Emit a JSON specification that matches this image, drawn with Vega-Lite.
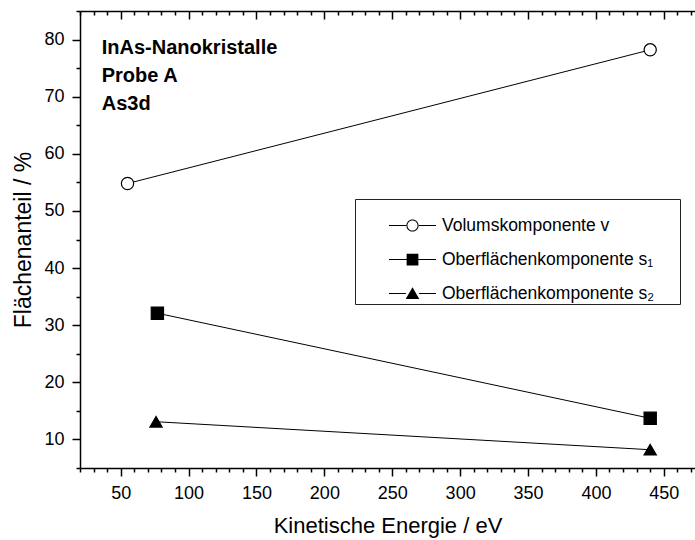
{
  "$schema": "https://vega.github.io/schema/vega-lite/v6.json",
  "width": 615,
  "height": 457,
  "autosize": {"type": "none"},
  "padding": {"left": 80, "top": 11, "right": 0, "bottom": 72},
  "background": "white",
  "config": {
    "view": {"stroke": null},
    "font": "Liberation Sans",
    "axis": {
      "grid": false,
      "domainColor": "black",
      "tickColor": "black",
      "labelColor": "black",
      "titleColor": "black",
      "labelFont": "Liberation Sans",
      "titleFont": "Liberation Sans",
      "titleFontWeight": "normal",
      "domainWidth": 1.5,
      "tickWidth": 1.5
    }
  },
  "datasets": {
    "series": [
      {"serie": "Volumskomponente v", "energie": 55, "anteil": 54.8},
      {"serie": "Volumskomponente v", "energie": 440, "anteil": 78.2},
      {"serie": "Oberflächenkomponente s₁", "energie": 77, "anteil": 32.1},
      {"serie": "Oberflächenkomponente s₁", "energie": 440, "anteil": 13.7},
      {"serie": "Oberflächenkomponente s₂", "energie": 76, "anteil": 13.1},
      {"serie": "Oberflächenkomponente s₂", "energie": 440, "anteil": 8.2}
    ],
    "notes": [
      {"text": "InAs-Nanokristalle", "energie": 36, "anteil": 78.5},
      {"text": "Probe A", "energie": 36, "anteil": 73.6},
      {"text": "As3d", "energie": 36, "anteil": 68.8}
    ]
  },
  "layer": [
    {
      "data": {"name": "series"},
      "mark": {"type": "line", "color": "black", "strokeWidth": 1},
      "encoding": {
        "x": {
          "field": "energie", "type": "quantitative",
          "scale": {"domain": [20, 473], "nice": false, "zero": false},
          "axis": {
            "orient": "bottom",
            "values": [50, 100, 150, 200, 250, 300, 350, 400, 450],
            "tickSize": 8,
            "labelFontSize": 18,
            "labelPadding": 8,
            "title": "Kinetische Energie / eV",
            "titleFontSize": 22,
            "titlePadding": 13
          }
        },
        "y": {
          "field": "anteil", "type": "quantitative",
          "scale": {"domain": [5, 85], "nice": false, "zero": false},
          "axis": {
            "orient": "left",
            "values": [10, 20, 30, 40, 50, 60, 70, 80],
            "tickSize": 8,
            "labelFontSize": 18,
            "labelPadding": 8,
            "title": "Flächenanteil / %",
            "titleFontSize": 23,
            "titlePadding": 8
          }
        },
        "detail": {"field": "serie"}
      }
    },
    {
      "data": {"name": "series"},
      "mark": {"type": "point", "filled": true, "size": 150, "stroke": "black", "strokeWidth": 1.2, "opacity": 1},
      "encoding": {
        "x": {
          "field": "energie", "type": "quantitative",
          "scale": {"domain": [20, 473], "nice": false, "zero": false},
          "axis": {
            "orient": "bottom",
            "values": [20, 30, 40, 60, 70, 80, 90, 110, 120, 130, 140, 160, 170, 180, 190, 210, 220, 230, 240, 260, 270, 280, 290, 310, 320, 330, 340, 360, 370, 380, 390, 410, 420, 430, 440, 460, 470],
            "tickSize": 4,
            "labels": false,
            "domain": false,
            "title": null
          }
        },
        "y": {
          "field": "anteil", "type": "quantitative",
          "scale": {"domain": [5, 85], "nice": false, "zero": false},
          "axis": {
            "orient": "left",
            "values": [5, 15, 25, 35, 45, 55, 65, 75, 85],
            "tickSize": 4,
            "labels": false,
            "domain": false,
            "title": null
          }
        },
        "shape": {
          "field": "serie", "type": "nominal",
          "scale": {
            "domain": ["Volumskomponente v", "Oberflächenkomponente s₁", "Oberflächenkomponente s₂"],
            "range": ["circle", "square", "triangle-up"]
          },
          "legend": null
        },
        "fill": {
          "field": "serie", "type": "nominal",
          "scale": {
            "domain": ["Volumskomponente v", "Oberflächenkomponente s₁", "Oberflächenkomponente s₂"],
            "range": ["white", "black", "black"]
          },
          "legend": null
        }
      }
    },
    {
      "data": {"name": "series"},
      "mark": {"type": "point", "filled": true, "color": "black", "opacity": 0},
      "encoding": {
        "x": {
          "field": "energie", "type": "quantitative",
          "scale": {"domain": [20, 473], "nice": false, "zero": false},
          "axis": null
        },
        "y": {
          "field": "anteil", "type": "quantitative",
          "scale": {"domain": [5, 85], "nice": false, "zero": false},
          "axis": null
        },
        "shape": {
          "field": "serie", "type": "nominal",
          "scale": {
            "domain": ["Volumskomponente v", "Oberflächenkomponente s₁", "Oberflächenkomponente s₂"],
            "range": [
              "M11.15,0L11.15,0.01L11.14,0.01ZM-1,-0.021H-0.27V0.021H-1ZM0.27,-0.021H1V0.021H0.27ZM-0.26,0A0.26,0.26 0 1,1 0.26,0A0.26,0.26 0 1,1 -0.26,0ZM-0.215,0A0.215,0.215 0 1,0 0.215,0A0.215,0.215 0 1,0 -0.215,0Z",
              "M11.15,0L11.15,0.01L11.14,0.01ZM-1,-0.021H-0.25V0.021H-1ZM0.25,-0.021H1V0.021H0.25ZM-0.25,-0.25H0.25V0.25H-0.25Z",
              "M11.15,0L11.15,0.01L11.14,0.01ZM-1,-0.021H-0.28V0.021H-1ZM0.28,-0.021H1V0.021H0.28ZM0,-0.27L0.29,0.23L-0.29,0.23Z"
            ]
          },
          "legend": {
            "title": null,
            "orient": "none",
            "legendX": 275,
            "legendY": 188,
            "padding": 2,
            "symbolSize": 2209,
            "symbolOffset": 31,
            "symbolOpacity": 1,
            "symbolFillColor": "black",
            "labelOffset": 5,
            "rowPadding": -13.5,
            "labelFont": "Liberation Sans",
            "labelFontSize": 17.5,
            "labelColor": "black",
            "labelLimit": 400,
            "strokeColor": "#222222",
            "fillColor": "white"
          }
        }
      }
    },
    {
      "data": {"name": "series"},
      "mark": {"type": "point", "opacity": 0},
      "encoding": {
        "x": {
          "field": "energie", "type": "quantitative",
          "scale": {"domain": [20, 473], "nice": false, "zero": false},
          "axis": {
            "orient": "top",
            "values": [50, 100, 150, 200, 250, 300, 350, 400, 450],
            "tickSize": -8,
            "labels": false,
            "title": null
          }
        },
        "y": {
          "field": "anteil", "type": "quantitative",
          "scale": {"domain": [5, 85], "nice": false, "zero": false},
          "axis": null
        }
      }
    },
    {
      "data": {"name": "series"},
      "mark": {"type": "point", "opacity": 0},
      "encoding": {
        "x": {
          "field": "energie", "type": "quantitative",
          "scale": {"domain": [20, 473], "nice": false, "zero": false},
          "axis": {
            "orient": "top",
            "values": [20, 30, 40, 60, 70, 80, 90, 110, 120, 130, 140, 160, 170, 180, 190, 210, 220, 230, 240, 260, 270, 280, 290, 310, 320, 330, 340, 360, 370, 380, 390, 410, 420, 430, 440, 460, 470],
            "tickSize": -4,
            "labels": false,
            "domain": false,
            "title": null
          }
        },
        "y": {
          "field": "anteil", "type": "quantitative",
          "scale": {"domain": [5, 85], "nice": false, "zero": false},
          "axis": null
        }
      }
    },
    {
      "data": {"name": "notes"},
      "mark": {"type": "text", "align": "left", "baseline": "middle", "fontWeight": "bold", "fontSize": 20, "font": "Liberation Sans", "color": "black"},
      "encoding": {
        "x": {
          "field": "energie", "type": "quantitative",
          "scale": {"domain": [20, 473], "nice": false, "zero": false},
          "axis": null
        },
        "y": {
          "field": "anteil", "type": "quantitative",
          "scale": {"domain": [5, 85], "nice": false, "zero": false},
          "axis": null
        },
        "text": {"field": "text"}
      }
    }
  ],
  "resolve": {
    "axis": {"x": "independent", "y": "independent"},
    "scale": {"shape": "independent", "fill": "independent"}
  }
}
